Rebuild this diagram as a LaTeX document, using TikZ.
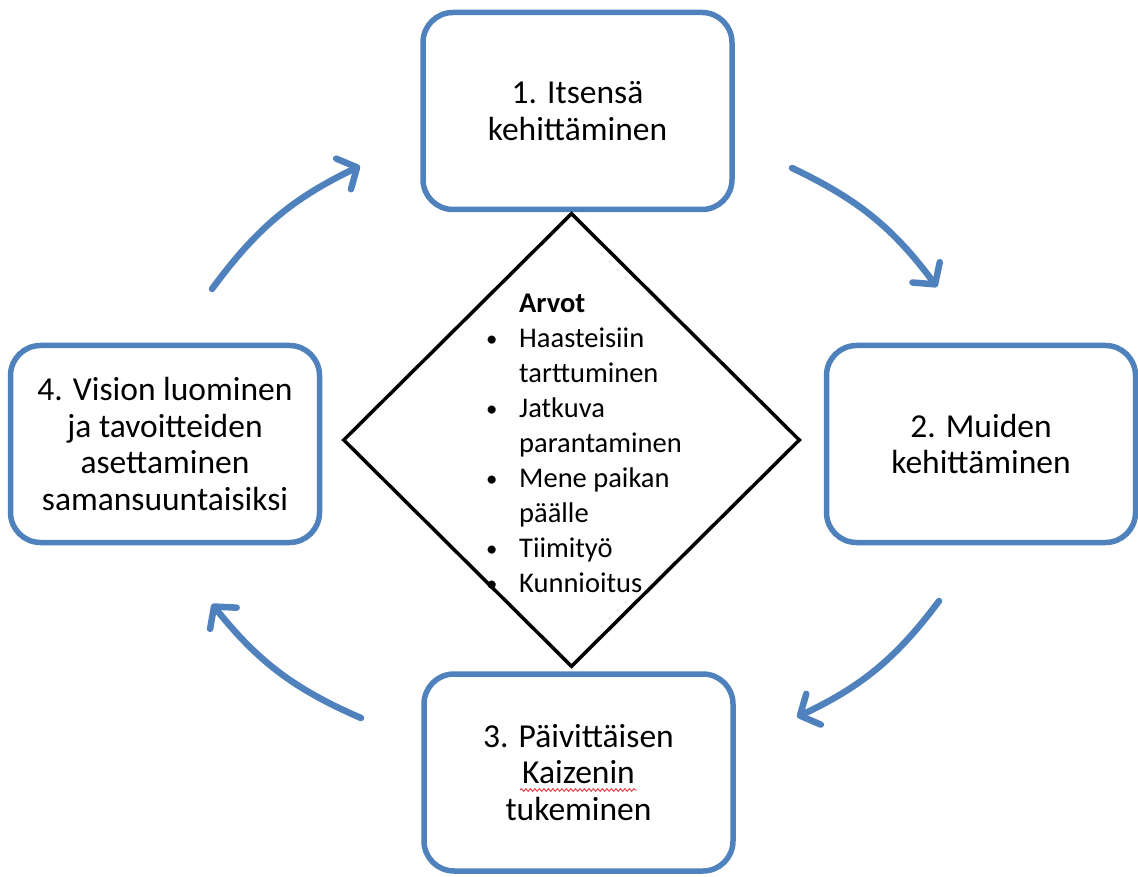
\documentclass[tikz,border=0pt]{standalone}
\usepackage{fontspec}
\setmainfont{Carlito}
\usetikzlibrary{arrows.meta,shapes.geometric,decorations.pathmorphing}
\definecolor{stepblue}{HTML}{4F81BD}
\definecolor{spellred}{HTML}{E8393F}
\newcommand{\valbullet}{\makebox[33pt][l]{\raisebox{1pt}{\scalebox{0.8}{•}}}}
\begin{document}
\begin{tikzpicture}[x=1pt,y=-1pt,
  stagebox/.style={draw=stepblue, line width=5.5pt, rounded corners=30pt,
    minimum width=309pt, minimum height=197pt, align=center,
    font=\fontsize{33.5}{36.5}\selectfont, inner sep=0pt},
  cyclearrow/.style={draw=stepblue, line width=6.5pt, line cap=round,
    -{Straight Barb[length=15pt, width=34pt, line width=6.5pt, round]}},
  valuetext/.style={font=\fontsize{28.5}{35}\selectfont, align=left, inner sep=0pt,
    anchor=north west}
]
\useasboundingbox (0,0) rectangle (1138,877);

% four stages of the cycle
\node[stagebox] (s1) at (577.5,111) {1. Itsensä\\kehittäminen};
\node[stagebox] (s2) at (981,444) {2. Muiden\\kehittäminen};
\node[stagebox] (s3) at (578.5,772.5) {3. Päivittäisen\\Kaizenin\\tukeminen};
\node[stagebox] (s4) at (165,444) {4. Vision luominen\\ja tavoitteiden\\asettaminen\\samansuuntaisiksi};

% values in the centre
\node[draw=black, line width=3.5pt, diamond, minimum width=457pt,
  minimum height=454pt, inner sep=0pt] (vals) at (571.5,440) {};
\node[valuetext] (list) at (486,294) {%
  \hspace*{33pt}\textbf{Arvot}\\
  \valbullet Haasteisiin\\
  \hspace*{33pt}tarttuminen\\
  \valbullet Jatkuva\\
  \hspace*{33pt}parantaminen\\
  \valbullet Mene paikan\\
  \hspace*{33pt}päälle\\
  \valbullet Tiimityö\\
  \valbullet Kunnioitus};

% spelling underline below "Kaizenin"
\draw[spellred, line width=0.9pt, decorate,
  decoration={snake, amplitude=1.3pt, segment length=4.5pt}]
  (520,790) -- (637,790);

% arrows between the stages
\coordinate (a1s) at (212,289);
\coordinate (a1e) at (360,166);
\coordinate (a2s) at (792,168);
\coordinate (a2e) at (937,287);
\coordinate (a3s) at (939,601);
\coordinate (a3e) at (797,717);
\coordinate (a4s) at (361,718);
\coordinate (a4e) at (212,604);
\draw[cyclearrow] (a1s) to[bend left=14] (a1e);
\draw[cyclearrow] (a2s) to[bend left=14] (a2e);
\draw[cyclearrow] (a3s) to[bend left=14] (a3e);
\draw[cyclearrow] (a4s) to[bend left=14] (a4e);
\end{tikzpicture}
\end{document}
